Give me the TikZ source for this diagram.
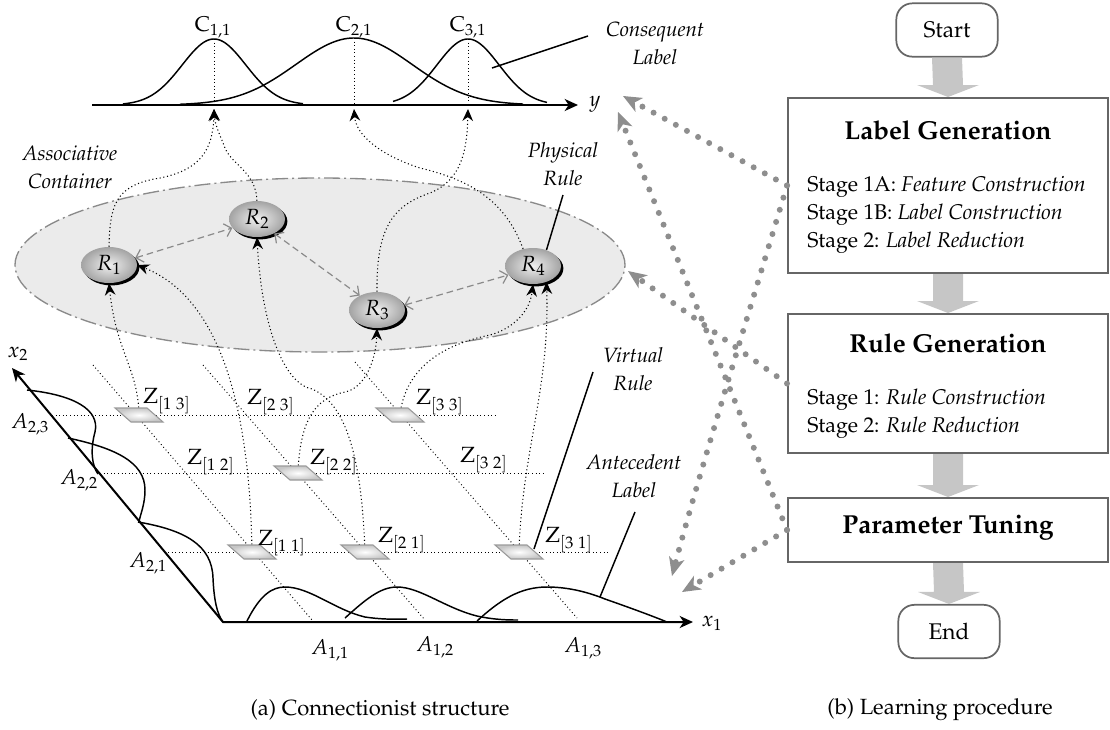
\documentclass[tikz,border=0pt]{standalone}
\usepackage[T1]{fontenc}
\usepackage{mathpazo}
\usetikzlibrary{arrows.meta,shadows,shapes.geometric}

\definecolor{edgegray}{HTML}{666666}
\definecolor{blockgray}{HTML}{C6C6C6}
\definecolor{cloudfill}{HTML}{EBEBEB}
\definecolor{cloudedge}{HTML}{8A8A8A}
\definecolor{beadgray}{HTML}{8E8E8E}
\definecolor{cellgray}{HTML}{9A9A9A}

\tikzset{
  px/.style={x=0.75pt,y=-0.75pt},
  bell/.style={line width=1.1pt},
  guide/.style={line width=0.7pt, dotted},
  link/.style={line width=0.8pt, dotted, -{Stealth[length=9pt,width=8pt,inset=3pt]}},
  mutual/.style={draw=cloudedge, line width=0.9pt, dash pattern=on 5pt off 3pt,
    {Straight Barb[length=5pt,width=10pt]}-{Straight Barb[length=5pt,width=10pt]}},
  rule/.style={ellipse, minimum width=42pt, minimum height=27pt, inner sep=0pt,
    inner color=gray!12, outer color=gray!72,
    drop shadow={shadow xshift=1.8pt, shadow yshift=-1.8pt, fill=black, opacity=1},
    font=\fontsize{16.5}{19}\selectfont},
  cell/.style={draw=cellgray, line width=0.8pt, inner color=white, outer color=gray!45},
  zlab/.style={anchor=west, inner sep=0pt, font=\fontsize{16.5}{19}\selectfont},
  mlab/.style={inner sep=0pt, font=\fontsize{16}{19}\selectfont},
  note/.style={inner sep=0pt, align=center, font=\fontsize{15.5}{21}\selectfont\itshape},
  pointer/.style={line width=1.1pt},
  box/.style={draw=edgegray, line width=1.5pt, minimum width=240pt, inner sep=0pt},
  term/.style={draw=edgegray, line width=1.3pt, rounded corners=12pt,
    minimum width=76pt, minimum height=40pt, font=\fontsize{17}{20}\selectfont},
  title/.style={font=\fontsize{19.5}{23}\bfseries\selectfont},
  stages/.style={anchor=west, align=left, inner sep=0pt, font=\fontsize{16}{21}\selectfont},
  beads/.style={draw=beadgray, line width=4.5pt, line cap=round, dash pattern=on 0pt off 9.5pt,
    -{Stealth[length=14pt,width=12pt,inset=4pt,line width=0pt]}},
  caption/.style={font=\fontsize{16.5}{20}\selectfont}
}

% shaded parallelogram cell centred on a coordinate
\newcommand\zcell[1]{\shadedraw[cell] ([shift={(-24,-7)}]#1) -- ++(32,0) -- ++(16,14) -- ++(-32,0) -- cycle;}
% broad grey block arrow from the bottom of one node to the top of the next
\newcommand\blockarrow[2]{%
  \fill[blockgray] ([xshift=-11.25pt]#1.south) -- ([xshift=-11.25pt,yshift=9pt]#2.north)
    -- ([xshift=-23.25pt,yshift=9pt]#2.north) -- (#2.north)
    -- ([xshift=23.25pt,yshift=9pt]#2.north) -- ([xshift=11.25pt,yshift=9pt]#2.north)
    -- ([xshift=11.25pt]#1.south) -- cycle;}

\begin{document}
\begin{tikzpicture}[px]
\useasboundingbox (0,0) rectangle (1110,729);

% ---------- associative container ----------
\node[ellipse, draw=cloudedge, fill=cloudfill, line width=1pt,
      dash pattern=on 12pt off 3pt on 1.5pt off 3pt,
      minimum width=457.5pt, minimum height=130.5pt, inner sep=0pt] (cont) at (320,265) {};
\node[note] (contlab) at (70,167) {Associative\\Container};

% ---------- consequent axis and labels ----------
\coordinate (yorig) at (92,105);
\coordinate (yend) at (578,105);
\draw[line width=1.5pt, -{Stealth[length=10pt,width=9pt,inset=3pt]}] (yorig) -- (yend);
\node[mlab] (ylab) at (595,104) {$y$};

\draw[bell] plot[domain=123:303, samples=100] (\x,{105-66*exp(-((\x-214)/45)*((\x-214)/45))});
\draw[bell] plot[domain=180:523, samples=120] (\x,{105-67*exp(-((\x-354)/82)*((\x-354)/82))});
\draw[bell] plot[domain=393:547, samples=100] (\x,{105-66*exp(-((\x-468)/44)*((\x-468)/44))});

\coordinate (p11) at (214,39);  \coordinate (f11) at (214,109);
\coordinate (p21) at (354,38);  \coordinate (f21) at (354,109);
\coordinate (p31) at (468,39);  \coordinate (f31) at (468,109);
\draw[guide] (p11) -- (214,105);
\draw[guide] (p21) -- (354,105);
\draw[guide] (p31) -- (468,105);
\node[mlab] (c11) at (213,27) {$\mathrm{C}_{1,1}$};
\node[mlab] (c21) at (354,27) {$\mathrm{C}_{2,1}$};
\node[mlab] (c31) at (468,27) {$\mathrm{C}_{3,1}$};

\node[note] (conslab) at (655,43) {Consequent\\Label};
\coordinate (consfoot) at (492,68);
\coordinate (constop) at (588,36);
\draw[pointer] (consfoot) -- (constop);

% ---------- rule grid ----------
\coordinate (r3a) at (52,415);  \coordinate (r3b) at (497,415);
\coordinate (r2a) at (100,473); \coordinate (r2b) at (543,473);
\coordinate (r1a) at (168,552); \coordinate (r1b) at (610,552);
\draw[guide] (r3a) -- (r3b);
\draw[guide] (r2a) -- (r2b);
\draw[guide] (r1a) -- (r1b);
\coordinate (d1a) at (93,365);  \coordinate (d1b) at (312,620);
\coordinate (d2a) at (203,365); \coordinate (d2b) at (425,620);
\coordinate (d3a) at (355,362); \coordinate (d3b) at (577,618);
\draw[guide] (d1a) -- (d1b);
\draw[guide] (d2a) -- (d2b);
\draw[guide] (d3a) -- (d3b);

\coordinate (z13) at (139,415);
\coordinate (z33) at (400,415);
\coordinate (z22) at (298,473);
\coordinate (z11) at (252,552);
\coordinate (z21) at (365,552);
\coordinate (z31) at (519,552);

% ---------- physical rules ----------
\node[rule] (R1) at (109,265) {$R_1$};
\node[rule] (R2) at (257,219) {$R_2$};
\node[rule] (R3) at (377,310) {$R_3$};
\node[rule] (R4) at (533,266) {$R_4$};

\draw[mutual] (R1.15) -- (R2.200);
\draw[mutual] (R2.-40) -- (R3.140);
\draw[mutual] (R3.10) -- (R4.200);

% virtual rules feeding physical rules
\draw[link] (z13) .. controls (138,368) and (116,352) .. (R1.south);
\draw[link] (z11) .. controls (250,420) and (225,300) .. (R1.east);
\draw[link] (z21) .. controls (362,470) and (350,405) .. (312,389) .. controls (285,384) and (262,330) .. (R2.south);
\draw[link] (z22) .. controls (300,420) and (315,398) .. (345,392) .. controls (365,388) and (376,360) .. (R3.south);
\draw[link] (z33) .. controls (405,370) and (440,345) .. (490,335) .. controls (515,328) and (530,310) .. (R4.south);
\draw[link] (z31) .. controls (522,450) and (550,390) .. (R4.-50);

% physical rules feeding consequent labels
\draw[link] (R1.north) .. controls (110,205) and (115,185) .. (160,178) .. controls (200,170) and (213,150) .. (f11);
\draw[link] (R2.north) .. controls (256,172) and (232,165) .. (225,148) .. controls (220,135) and (215,125) .. (f11);
\draw[link] (R4.120) .. controls (505,200) and (470,180) .. (420,168) .. controls (380,155) and (356,135) .. (f21);
\draw[link] (R3.north) .. controls (376,225) and (395,205) .. (430,193) .. controls (462,180) and (467,150) .. (f31);

\zcell{z13} \zcell{z33} \zcell{z22} \zcell{z11} \zcell{z21} \zcell{z31}

\node[zlab] (l13) at (143,401) {$\mathrm{Z}_{[1\;3]}$};
\node[zlab] (l23) at (247,402) {$\mathrm{Z}_{[2\;3]}$};
\node[zlab] (l33) at (416,402) {$\mathrm{Z}_{[3\;3]}$};
\node[zlab] (l12) at (187,462) {$\mathrm{Z}_{[1\;2]}$};
\node[zlab] (l22) at (310,462) {$\mathrm{Z}_{[2\;2]}$};
\node[zlab] (l32) at (460,460) {$\mathrm{Z}_{[3\;2]}$};
\node[zlab] (l11) at (258,543) {$\mathrm{Z}_{[1\;1]}$};
\node[zlab] (l21) at (378,540) {$\mathrm{Z}_{[2\;1]}$};
\node[zlab] (l31) at (545,540) {$\mathrm{Z}_{[3\;1]}$};

% ---------- antecedent axes ----------
\coordinate (O) at (223,622);
\coordinate (x1end) at (693,622);
\coordinate (x2end) at (12,368);
\draw[line width=1.5pt, {Stealth[length=10pt,width=9pt,inset=3pt]}-{Stealth[length=10pt,width=9pt,inset=3pt]}]
  (x2end) -- (O) -- (x1end);
\node[mlab] (x1lab) at (712,623) {$x_1$};
\node[mlab] (x2lab) at (18,354) {$x_2$};

% membership functions along x2
\draw[bell] (27,390) .. controls (75,395) and (100,410) .. (95,432) .. controls (90,450) and (92,466) .. (98,474);
\draw[bell] (68,438) .. controls (115,448) and (145,462) .. (145,490) .. controls (145,505) and (140,515) .. (139,522);
\draw[bell] (138,522) .. controls (185,530) and (212,545) .. (213,578) .. controls (214,600) and (217,614) .. (223,622);
% membership functions along x1
\draw[bell] (247,621) .. controls (260,595) and (272,587) .. (285,587) .. controls (310,587) and (335,610) .. (365,617) .. controls (385,620) and (400,619) .. (407,619);
\draw[bell] (345,618) .. controls (365,600) and (380,587) .. (397,587) .. controls (420,587) and (445,608) .. (477,616) .. controls (495,620) and (510,620) .. (518,620);
\draw[bell] (477,621) .. controls (500,600) and (520,587) .. (547,587) .. controls (570,587) and (590,593) .. (605,599) .. controls (625,606) and (650,615) .. (667,622);

\node[mlab] (a23) at (30,424) {$A_{2,3}$};
\node[mlab] (a22) at (79,480) {$A_{2,2}$};
\node[mlab] (a21) at (148,563) {$A_{2,1}$};
\node[mlab] (a11) at (330,650) {$A_{1,1}$};
\node[mlab] (a12) at (435,647) {$A_{1,2}$};
\node[mlab] (a13) at (583,648) {$A_{1,3}$};

% ---------- annotations ----------
\node[note] (plab) at (563,164) {Physical\\Rule};
\coordinate (ptop) at (563,195);
\draw[pointer] (R4.50) -- (ptop);

\node[note] (vlab) at (633,369) {Virtual\\Rule};
\coordinate (vfoot) at (534,549);
\coordinate (vtop) at (593,372);
\draw[pointer] (vfoot) -- (vtop);

\node[note] (alab) at (634,476) {Antecedent\\Label};
\coordinate (afoot) at (600,597);
\coordinate (atop) at (635,512);
\draw[pointer] (afoot) -- (atop);

% ---------- learning procedure ----------
\node[term] (start) at (947,30) {Start};
\node[box, minimum height=131.25pt] (lg) at (948,185.5) {};
\node[title] (lgt) at (948,130) {Label Generation};
\node[stages] (lgs) at (807,215) {Stage 1A: \textit{Feature Construction}\\Stage 1B: \textit{Label Construction}\\Stage 2: \textit{Label Reduction}};
\node[box, minimum height=104.25pt] (rg) at (948,383.5) {};
\node[title] (rgt) at (948,343) {Rule Generation};
\node[stages] (rgs) at (807,413.5) {Stage 1: \textit{Rule Construction}\\Stage 2: \textit{Rule Reduction}};
\node[box, minimum height=48pt] (pt) at (948,530) {};
\node[title] (ptt) at (948,528) {Parameter Tuning};
\node[term] (stop) at (949,631.5) {End};

\blockarrow{start}{lg}
\blockarrow{lg}{rg}
\blockarrow{rg}{pt}
\blockarrow{pt}{stop}

\node[caption] (capa) at (380,710) {(a) Connectionist structure};
\node[caption] (capb) at (940,710) {(b) Learning procedure};

% ---------- feedback between the two parts ----------
\coordinate (tipA) at (623,96);
\coordinate (tipB) at (618,112);
\coordinate (tipC) at (628,271);
\coordinate (tipD) at (672,576);
\coordinate (tipE) at (682,592);
\draw[beads] (lg.west) -- (tipA);
\draw[beads] (lg.west) .. controls (765,260) and (700,470) .. (tipD);
\draw[beads] (rg.west) -- (tipC);
\draw[beads] (pt.west) -- (tipB);
\draw[beads] (pt.west) -- (tipE);
\end{tikzpicture}
\end{document}
